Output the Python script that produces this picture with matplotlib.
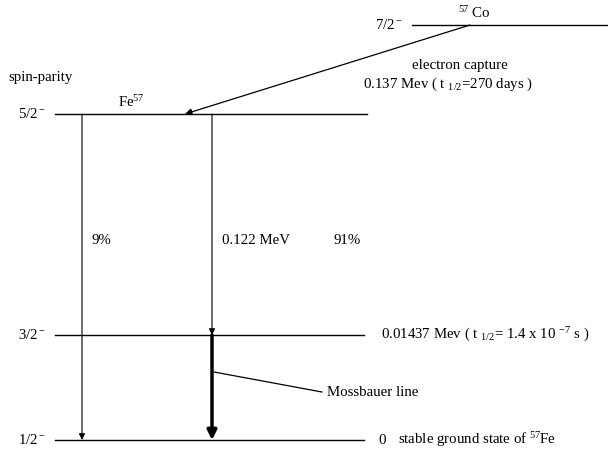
import matplotlib.pyplot as plt

plt.rcParams['font.family'] = ['Liberation Serif', 'DejaVu Serif']
plt.rcParams['mathtext.fontset'] = 'custom'
plt.rcParams['mathtext.rm'] = 'Liberation Serif'
plt.rcParams['mathtext.it'] = 'Liberation Serif:italic'

# уровни: спин-чётность, положение на схеме (пиксели), начало и конец линии
levels = ['7/2$^-$', '5/2$^-$', '3/2$^-$', '1/2$^-$']
level_y = [25, 114, 335, 440]
level_x0 = [412, 55, 55, 55]
level_x1 = [608, 367, 364, 364]
label_x = [375, 18, 18, 18]

# переходы
x_9 = 82
x_91 = 212

fig = plt.figure(figsize=(6.08, 4.51), dpi=100)
ax = fig.add_axes([0, 0, 1, 1])
ax.set_xlim(0, 608)
ax.set_ylim(451, 0)
ax.axis('off')

fs = 10.7
for name, y, a, b, lx in zip(levels, level_y, level_x0, level_x1, label_x):
    ax.plot([a, b], [y, y], color='black', lw=1)
    ax.text(lx, y, name, fontsize=fs, va='center', ha='left')

ax.text(8, 78, 'spin-parity', fontsize=fs, va='center')
ax.text(118, 102, 'Fe$^{57}$', fontsize=fs, va='center')
ax.text(458, 13, '$^{57}$ Co', fontsize=fs, va='center')

# электронный захват
ax.annotate('', xy=(185, level_y[1]), xytext=(470, level_y[0]),
            arrowprops=dict(arrowstyle='-|>', color='black', lw=0.9,
                            mutation_scale=10, shrinkA=0, shrinkB=0))
ax.text(460, 65, 'electron capture', fontsize=fs, ha='center', va='center')
ax.text(363, 84, '0.137 Mev ( t $_{1/2}$=270 days )', fontsize=fs, va='center')

# 9% переход
ax.annotate('', xy=(x_9, level_y[3]), xytext=(x_9, level_y[1]),
            arrowprops=dict(arrowstyle='-|>', color='black', lw=0.8,
                            mutation_scale=9, shrinkA=0, shrinkB=0))
ax.text(92, 240, '9%', fontsize=fs, va='center')

# 0.122 MeV
ax.annotate('', xy=(x_91, level_y[2]), xytext=(x_91, level_y[1]),
            arrowprops=dict(arrowstyle='-|>', color='black', lw=0.8,
                            mutation_scale=9, shrinkA=0, shrinkB=0))
ax.text(222, 240, '0.122 MeV', fontsize=fs, va='center')
ax.text(333, 240, '91%', fontsize=fs, va='center')

# линия Мёссбауэра
ax.annotate('', xy=(x_91, level_y[3]), xytext=(x_91, level_y[2]),
            arrowprops=dict(arrowstyle='-|>', color='black', lw=2.5,
                            mutation_scale=14, shrinkA=0, shrinkB=0))
ax.plot([214, 322], [372, 392], color='black', lw=0.9)
ax.text(327, 393, 'Mossbauer line', fontsize=fs, va='center')

ax.text(381, 335, '0.01437 Mev ( t $_{1/2}$= 1.4 x 10 $^{-7}$ s )', fontsize=fs, va='center')
ax.text(378, 440, '0', fontsize=fs, va='center')
ax.text(398, 440, 'stable ground state of $^{57}$Fe', fontsize=fs, va='center')

fig.savefig('out.png', dpi=100)
